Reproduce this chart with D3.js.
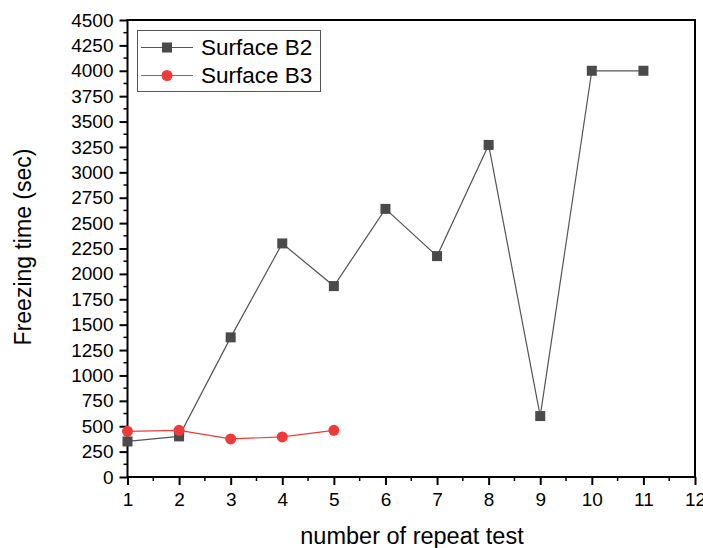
<!DOCTYPE html>
<html>
<head>
<meta charset="utf-8">
<script src="https://cdn.jsdelivr.net/npm/d3@7"></script>
<style>
  body { margin: 0; background: #fff; }
  text { font-family: "Liberation Sans", Arial, sans-serif; }
</style>
</head>
<body>
<svg width="703" height="548"></svg>
<script>
var repeats = [1, 2, 3, 4, 5, 6, 7, 8, 9, 10, 11];
var surfaceB2 = [350, 400, 1375, 2300, 1880, 2640, 2175, 3270, 600, 4000, 4000];
var repeatsB3 = [1, 2, 3, 4, 5];
var surfaceB3 = [450, 460, 375, 395, 460];
var xTicks = [1, 2, 3, 4, 5, 6, 7, 8, 9, 10, 11, 12];
var yTicks = d3.range(0, 4501, 250);

const svg = d3.select('svg')
const plotLeft = 127.5, plotRight = 695, plotTop = 20, plotBottom = 477;

const x = d3.scaleLinear().domain([1, 12]).range([plotLeft, plotRight])
const y = d3.scaleLinear().domain([0, 4500]).range([plotBottom, plotTop])

// frame
svg.append('rect')
  .attr('x', plotLeft).attr('y', plotTop)
  .attr('width', plotRight - plotLeft).attr('height', plotBottom - plotTop)
  .attr('fill', 'none').attr('stroke', '#000').attr('stroke-width', 2)

// y axis
const yAxis = svg.append('g').attr('transform', `translate(${plotLeft},0)`)
  .call(d3.axisLeft(y).tickValues(yTicks).tickFormat(d3.format('d')).tickSize(8).tickPadding(6))
yAxis.select('.domain').remove()
yAxis.selectAll('line').attr('stroke-width', 2)
yAxis.selectAll('text').attr('font-size', 19).attr('fill', '#000')
yAxis.selectAll('.minor')
  .data(yTicks.slice(0, -1).map(d => d + 125))
  .enter().append('line')
    .attr('x1', -4).attr('x2', 0)
    .attr('y1', d => y(d)).attr('y2', d => y(d))
    .attr('stroke', '#000').attr('stroke-width', 1.5)

// x axis
const xAxis = svg.append('g').attr('transform', `translate(0,${plotBottom})`)
  .call(d3.axisBottom(x).tickValues(xTicks).tickSize(8).tickPadding(8))
xAxis.select('.domain').remove()
xAxis.selectAll('line').attr('stroke-width', 2)
xAxis.selectAll('text').attr('font-size', 19).attr('fill', '#000')
xAxis.selectAll('.minor')
  .data(xTicks.slice(0, -1).map(d => d + 0.5))
  .enter().append('line')
    .attr('y1', 0).attr('y2', 4)
    .attr('x1', d => x(d)).attr('x2', d => x(d))
    .attr('stroke', '#000').attr('stroke-width', 1.5)

// axis titles
svg.append('text')
  .attr('x', 412).attr('y', 544)
  .attr('text-anchor', 'middle').attr('font-size', 23.5)
  .text('number of repeat test')
svg.append('text')
  .attr('transform', 'translate(31,247) rotate(-90)')
  .attr('text-anchor', 'middle').attr('font-size', 23)
  .text('Freezing time (sec)')

// series
const lineGen = d3.line().x(d => x(d[0])).y(d => y(d[1]))
const b2 = repeats.map((r, i) => [r, surfaceB2[i]])
const b3 = repeatsB3.map((r, i) => [r, surfaceB3[i]])

svg.append('path').datum(b2)
  .attr('d', lineGen).attr('fill', 'none')
  .attr('stroke', '#555').attr('stroke-width', 1.2)
svg.append('path').datum(b3)
  .attr('d', lineGen).attr('fill', 'none')
  .attr('stroke', '#f03a3a').attr('stroke-width', 1.2)

svg.append('g').selectAll('rect')
  .data(b2)
  .enter().append('rect')
    .attr('x', d => x(d[0]) - 5).attr('y', d => y(d[1]) - 5)
    .attr('width', 10).attr('height', 10)
    .attr('fill', '#4a4a4a')
svg.append('g').selectAll('circle')
  .data(b3)
  .enter().append('circle')
    .attr('cx', d => x(d[0])).attr('cy', d => y(d[1]))
    .attr('r', 5.5)
    .attr('fill', '#f03a3a')

// legend
const legend = svg.append('g')
legend.append('rect')
  .attr('x', 137.5).attr('y', 30.5).attr('width', 183).attr('height', 61)
  .attr('fill', '#fff').attr('stroke', '#555').attr('stroke-width', 1)
legend.append('line').attr('x1', 141).attr('x2', 193).attr('y1', 47.5).attr('y2', 47.5)
  .attr('stroke', '#555').attr('stroke-width', 1.2)
legend.append('rect').attr('x', 162).attr('y', 42.5).attr('width', 10).attr('height', 10)
  .attr('fill', '#4a4a4a')
legend.append('text').attr('x', 201).attr('y', 55).attr('font-size', 22.5).text('Surface B2')
legend.append('line').attr('x1', 141).attr('x2', 193).attr('y1', 75.5).attr('y2', 75.5)
  .attr('stroke', '#f03a3a').attr('stroke-width', 1.2)
legend.append('circle').attr('cx', 167).attr('cy', 75.5).attr('r', 5.5).attr('fill', '#f03a3a')
legend.append('text').attr('x', 201).attr('y', 83).attr('font-size', 22.5).text('Surface B3')
</script>
</body>
</html>
